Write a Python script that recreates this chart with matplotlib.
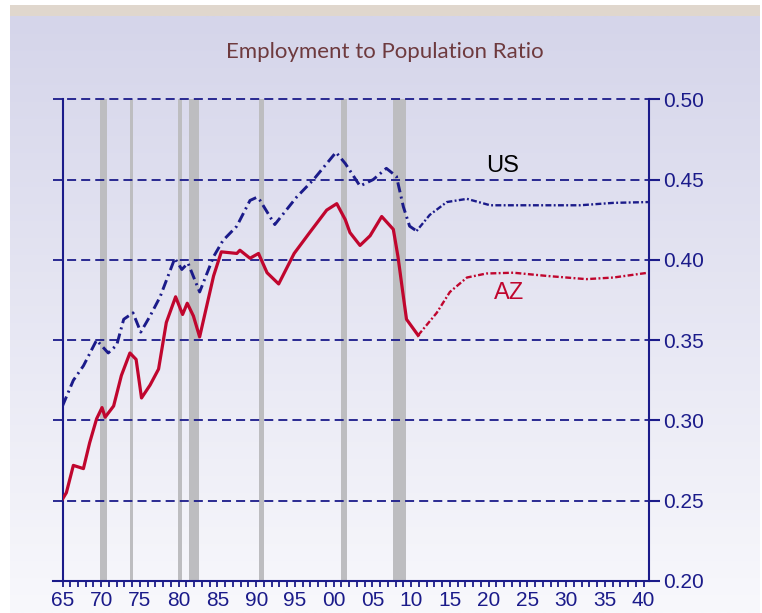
import numpy as np
import matplotlib
matplotlib.use("Agg")
import matplotlib.pyplot as plt

# US employment to population ratio, history then forecast
us_years = [1965.0, 1966.4, 1967.7, 1969.4, 1970.9, 1972.0, 1972.9, 1974.1, 1975.1,
            1976.3, 1977.6, 1979.5, 1980.4, 1981.2, 1982.7, 1984.5, 1985.7, 1987.5,
            1989.2, 1990.1, 1990.5, 1992.4, 1995.2, 1997.4, 2000.3, 2001.5, 2003.4,
            2005.1, 2006.8, 2008.1, 2009.0, 2009.8, 2010.7]
us_vals = [0.309, 0.325, 0.334, 0.350, 0.342, 0.347, 0.363, 0.367, 0.355,
           0.365, 0.377, 0.401, 0.394, 0.398, 0.380, 0.402, 0.412, 0.421,
           0.437, 0.439, 0.437, 0.422, 0.439, 0.450, 0.467, 0.460, 0.446,
           0.450, 0.457, 0.452, 0.433, 0.421, 0.418]
us_fc_years = [2010.7, 2012.4, 2014.6, 2017.2, 2020.2, 2025.3, 2031.8, 2036.1, 2040.6]
us_fc_vals = [0.418, 0.428, 0.436, 0.438, 0.434, 0.434, 0.434, 0.4355, 0.436]

# Arizona
az_years = [1965.0, 1965.5, 1966.4, 1967.7, 1968.5, 1969.4, 1970.1, 1970.5, 1971.6,
            1972.6, 1973.7, 1974.5, 1975.2, 1976.3, 1977.4, 1978.4, 1979.6, 1980.5,
            1981.1, 1981.9, 1982.7, 1983.6, 1984.5, 1985.5, 1987.5, 1987.9, 1989.2,
            1990.3, 1991.4, 1992.9, 1994.9, 1996.9, 1999.1, 2000.4, 2001.5, 2002.1,
            2003.4, 2004.7, 2006.2, 2007.7, 2008.3, 2009.0, 2009.4, 2010.9]
az_vals = [0.251, 0.255, 0.272, 0.270, 0.286, 0.301, 0.308, 0.302, 0.309,
           0.328, 0.342, 0.338, 0.314, 0.322, 0.332, 0.361, 0.377, 0.366,
           0.373, 0.365, 0.352, 0.371, 0.390, 0.405, 0.404, 0.406, 0.401,
           0.404, 0.392, 0.385, 0.404, 0.417, 0.431, 0.435, 0.425, 0.417,
           0.409, 0.415, 0.427, 0.419, 0.402, 0.377, 0.363, 0.353]
az_fc_years = [2010.9, 2013.3, 2015.0, 2017.2, 2019.7, 2023.2, 2027.5, 2032.6, 2036.1, 2040.6]
az_fc_vals = [0.353, 0.367, 0.380, 0.389, 0.3915, 0.392, 0.390, 0.388, 0.389, 0.392]

# recession shading
rec_start = [1969.8, 1973.7, 1979.9, 1981.3, 1990.4, 2000.9, 2007.6]
rec_end = [1970.7, 1974.1, 1980.4, 1982.6, 1991.0, 2001.7, 2009.3]

y_ticks = [0.20, 0.25, 0.30, 0.35, 0.40, 0.45, 0.50]
x_labels = ["65", "70", "75", "80", "85", "90", "95", "00", "05", "10",
            "15", "20", "25", "30", "35", "40"]

navy = "#1b1b8a"
crimson = "#c0062e"

W, H = 762, 613
fig = plt.figure(figsize=(W / 100, H / 100), dpi=100)

# background panel: white margin, beige strip, lavender gradient
bg = fig.add_axes([0, 0, 1, 1], zorder=-10)
bg.set_xlim(0, W)
bg.set_ylim(H, 0)
bg.axis("off")
top = np.array([213, 213, 234]) / 255
bot = np.array([248, 248, 252]) / 255
t = np.linspace(0, 1, 256)[:, None, None]
grad = top + (bot - top) * t
bg.imshow(grad, extent=[10, 760, H, 16], aspect="auto")
bg.add_patch(plt.Rectangle((10, 5), 750, 11, color="#e0d7cd", lw=0))

ax = fig.add_axes([62.5 / W, 1 - 581 / H, (649 - 62.5) / W, (581 - 99.3) / H])
ax.patch.set_alpha(0)

for s, e in zip(rec_start, rec_end):
    ax.axvspan(s, e, color="#bdbdc0", lw=0, zorder=1)

for y in y_ticks[1:]:
    ax.axhline(y, xmin=-0.016, xmax=1.0, color=navy, lw=1.3,
               dashes=(5, 2.8), clip_on=False, zorder=2)
ax.axhline(0.20, xmin=-0.016, xmax=1.0, color=navy, lw=1.5,
           clip_on=False, zorder=2)

ax.plot(us_years, us_vals, color=navy, lw=2.1, dashes=(3.5, 1.5, 0.7, 1.5), zorder=3)
ax.plot(us_fc_years, us_fc_vals, color=navy, lw=1.7, dashes=(0.8, 1.0, 2.5, 1.0), zorder=3)
ax.plot(az_years, az_vals, color=crimson, lw=2.3, zorder=4)
ax.plot(az_fc_years, az_fc_vals, color=crimson, lw=1.7, dashes=(2.5, 1.0, 0.8, 1.0), zorder=4)

ax.set_xlim(1965, 2040.7)
ax.set_ylim(0.20, 0.50)

for side in ["top", "bottom"]:
    ax.spines[side].set_visible(False)
for side in ["left", "right"]:
    ax.spines[side].set_color(navy)
    ax.spines[side].set_linewidth(1.5)

ax.yaxis.tick_right()
ax.set_yticks(y_ticks)
ax.set_yticklabels([f"{v:.2f}" for v in y_ticks])
ax.tick_params(axis="y", which="both", right=True, left=False, direction="out",
               length=8, width=1.5, color=navy, labelcolor=navy, labelsize=15, pad=2)

ax.set_xticks(np.arange(1965, 2041, 5))
ax.set_xticklabels(x_labels)
ax.set_xticks(np.arange(1965, 2041, 1), minor=True)
ax.tick_params(axis="x", which="both", direction="out", length=4, width=1.3,
               color=navy, labelcolor=navy, labelsize=15, pad=3)

for lab in ax.get_xticklabels() + ax.get_yticklabels():
    lab.set_family(["Liberation Sans", "DejaVu Sans"])

ax.text(2021.8, 0.4585, "US", color="black", fontsize=17,
        family=["Liberation Sans", "DejaVu Sans"], ha="center", va="center", zorder=5)
ax.text(2022.7, 0.3796, "AZ", color=crimson, fontsize=17,
        family=["Liberation Sans", "DejaVu Sans"], ha="center", va="center", zorder=5)

fig.text(385 / W, 1 - 52 / H, "Employment to Population Ratio", color="#6e3a3e",
         fontsize=16, family=["Lato", "DejaVu Sans"], ha="center", va="center")

fig.savefig("out.png", dpi=100)
